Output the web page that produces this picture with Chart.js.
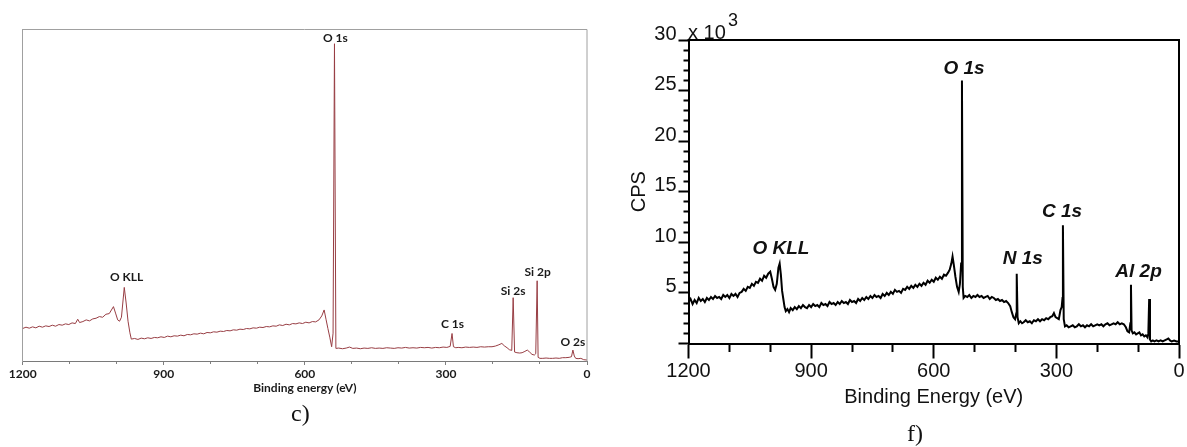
<!DOCTYPE html>
<html><head><meta charset="utf-8">
<script src="https://cdn.jsdelivr.net/npm/chart.js@4"></script>
<style>
html,body{margin:0;padding:0;background:#fff;}
#wrap{position:relative;width:1187px;height:447px;overflow:hidden;background:#fff;}
canvas{position:absolute;top:0;}
.t{position:absolute;white-space:nowrap;color:#111;}
</style></head><body>
<div id="wrap">
<canvas id="chartC" width="600" height="447" style="left:0"></canvas>
<canvas id="chartF" width="587" height="447" style="left:600px"></canvas>
<div class="t" style="left:291px;top:401px;font:24px 'Liberation Serif';line-height:24px">c)</div>
<div class="t" style="left:907px;top:421px;font:24px 'Liberation Serif';line-height:24px">f)</div>
<div class="t" style="left:688px;top:22px;font:20px 'Liberation Sans';line-height:20px">x 10</div>
<div class="t" style="left:728px;top:11px;font:18px 'Liberation Sans';line-height:18px">3</div>
</div>
<script>
// ---------- panel c) ----------
const energyC = [1200,1193,1186,1179,1172,1165,1158,1151,1144,1137,1130,1123,1116,1109,1102,1095,1088,1083,1079,1072,1065,1058,1051,1044,1037,1030,1023,1016,1007,1002,998,994,990,984,980,976,972,969,962,955,948,941,934,927,920,913,906,899,892,885,878,871,864,857,850,843,836,829,822,815,808,801,794,787,780,773,766,759,752,745,738,731,724,717,710,703,696,689,682,675,668,661,654,647,640,633,626,619,612,605,598,591,584,577,570,564,559,555,551,547,543,540,537,534,528,520,512,505,498,490,482,474,466,458,450,442,434,426,418,410,402,394,386,378,370,362,354,346,338,330,322,314,306,298,291,287,284,279,274,266,258,250,242,234,226,218,210,202,195,189,181,176,170,165,160,157,154,149,143,138,132,127,122,117,112,109,106,104,100,94,87,80,73,66,59,52,45,38,33,30,27,24,19,13,7,0];
const countsC = [9.8,10.2,9.9,10.3,10.0,10.5,10.2,10.6,10.4,10.8,10.5,11.0,10.8,11.2,11.0,11.5,11.3,12.6,11.6,11.9,12.4,12.1,12.7,12.9,13.4,13.2,14.1,14.3,16.4,14.2,12.4,12.0,13.2,22.2,17.5,12.0,8.5,6.6,6.8,6.5,6.9,6.7,7.0,6.8,7.1,7.0,7.3,7.1,7.5,7.3,7.6,7.5,7.8,7.6,8.0,7.9,8.2,8.1,8.4,8.2,8.6,8.5,8.8,8.7,9.0,8.9,9.2,9.1,9.4,9.3,9.6,9.5,9.8,9.7,10.0,9.9,10.2,10.1,10.4,10.3,10.6,10.5,10.9,10.7,11.1,10.9,11.3,11.2,11.5,11.3,11.7,11.5,11.9,11.8,12.4,13.6,15.4,12.6,9.8,7.2,4.3,8.4,95.7,3.8,3.9,3.7,3.9,4.2,3.8,3.9,3.7,3.9,3.8,4.0,3.8,3.9,3.8,4.0,3.9,3.8,4.0,3.9,4.1,3.9,4.0,3.9,4.1,4.0,4.1,3.9,4.1,4.0,4.2,4.1,4.4,8.3,4.3,4.0,4.1,4.0,4.2,4.1,4.2,4.1,4.3,4.2,4.3,4.3,4.5,4.8,5.3,4.6,4.0,3.4,3.2,19.1,2.7,2.5,2.4,2.5,2.9,3.3,2.7,2.0,1.8,2.2,24.2,1.1,0.8,0.8,0.9,0.8,0.8,0.9,0.8,1.0,1.0,1.1,1.3,3.3,1.5,0.8,0.7,0.8,0.4,0.3];
const peakNamesC = ['O 1s','O KLL','C 1s','Si 2s','Si 2p','O 2s'];
const peakLabelEnergyC = [535,979,286,157,105,30];
const peakLabelLevelC = [97.3,25.3,11.1,21.1,26.8,5.7];

// ---------- panel f) ----------
const energyF = [1200,1195,1190,1185,1180,1175,1170,1165,1160,1155,1150,1145,1140,1135,1130,1125,1120,1115,1110,1105,1100,1095,1090,1085,1080,1075,1070,1065,1060,1055,1050,1045,1040,1035,1030,1025,1020,1015,1010,1005,1000,996,992,988,984,980,977,974,971,968,965,962,958,954,950,945,940,935,930,925,920,915,910,905,900,895,890,885,880,875,870,865,860,855,850,845,840,835,830,825,820,815,810,805,800,795,790,785,780,775,770,765,760,755,750,745,740,735,730,725,720,715,710,705,700,695,690,685,680,675,670,665,660,655,650,645,640,635,630,625,620,615,610,605,600,595,590,585,580,575,570,565,561,557,554,551,547,543,539,536,533,531,529,527,523,518,513,508,503,498,493,488,483,478,473,468,463,458,453,448,443,438,433,428,423,418,413,409,405,401,398,397,395,392,388,384,380,375,370,365,360,355,350,345,340,335,330,325,320,315,310,306,302,298,294,290,287,285,284,282,279,275,270,265,260,255,250,245,240,235,230,225,220,215,210,205,200,195,190,185,180,175,170,165,160,155,150,145,140,135,130,126,122,119,117.5,116,113,109,105,101,97,93,89,85,81,77,75,73,71,68,64,60,55,50,45,40,35,30,26,22,18,12,6,0];
const countsF = [4.1,4.4,3.9,4.3,4.0,4.5,4.2,4.4,4.1,4.5,4.3,4.6,4.4,4.7,4.5,4.6,4.4,4.8,4.6,4.8,4.5,4.9,4.7,4.9,4.6,5.0,5.1,5.4,5.2,5.6,5.5,5.9,5.7,6.1,6.0,6.4,6.2,6.7,6.5,6.9,7.1,6.4,5.6,5.3,5.9,7.5,7.9,6.8,5.2,4.4,3.6,3.2,3.4,3.1,3.5,3.3,3.6,3.4,3.7,3.5,3.8,3.6,3.5,3.8,3.6,3.9,3.7,3.8,3.6,4.0,3.8,3.9,3.7,4.1,3.9,4.0,3.8,4.1,3.9,4.2,4.0,4.1,3.9,4.3,4.1,4.2,4.0,4.4,4.2,4.5,4.3,4.6,4.4,4.7,4.5,4.8,4.6,4.7,4.5,4.9,4.7,5.0,4.8,5.1,4.9,5.3,5.1,5.2,5.0,5.4,5.3,5.6,5.4,5.7,5.5,5.8,5.6,5.9,5.7,6.0,5.8,6.2,6.0,6.3,6.1,6.5,6.3,6.6,6.4,6.8,6.7,7.0,7.3,7.9,8.6,7.8,6.6,5.6,5.1,5.9,7.9,26.0,5.6,4.5,4.7,4.6,4.8,4.5,4.7,4.6,4.8,4.6,4.7,4.5,4.6,4.7,4.4,4.6,4.5,4.3,4.4,4.2,4.3,4.1,4.2,4.0,3.7,3.1,2.6,2.4,3.0,6.9,2.6,2.0,2.2,2.0,2.1,2.3,2.1,2.2,2.0,2.3,2.2,2.4,2.2,2.4,2.3,2.5,2.4,2.6,2.7,3.0,2.6,2.5,2.4,3.3,3.6,4.5,11.7,2.4,1.7,1.8,1.6,1.7,1.8,1.6,1.7,1.9,1.7,1.8,1.6,1.8,1.7,1.9,1.7,1.8,1.9,1.8,1.9,1.7,1.9,2.0,1.8,1.9,2.0,1.9,2.1,1.9,2.0,1.9,1.6,1.2,1.1,2.0,5.8,1.3,1.0,1.1,0.9,1.0,1.1,0.8,0.9,0.7,0.8,0.6,1.0,4.4,0.4,0.2,0.3,0.2,0.3,0.2,0.3,0.2,0.3,0.4,0.5,0.3,0.2,0.3,0.2,0.2];
const peakNamesF = ['O 1s','O KLL','N 1s','C 1s','Al 2p'];
const peakLabelEnergyF = [526,974,382,286,99];
const peakLabelLevelF = [27.2,9.4,8.4,13.0,7.1];

const xTickLabels = [1200,900,600,300,0];
const yTickLabelsF = [5,10,15,20,25,30];

function pts(xs, ys){ return xs.map((x,i)=>({x:x, y:ys[i]})); }

function framePlugin(color, width){
  return {id:'frame', afterDatasetsDraw(chart){
    const ctx = chart.ctx, a = chart.chartArea;
    ctx.save(); ctx.strokeStyle = color; ctx.lineWidth = width; ctx.lineCap='square';
    ctx.beginPath(); ctx.moveTo(a.left, a.top); ctx.lineTo(a.right, a.top); ctx.lineTo(a.right, a.bottom); ctx.stroke();
    ctx.restore();
  }};
}
function labelPlugin(names, energies, levels, font, color){
  return {id:'peakLabels', afterDatasetsDraw(chart){
    const ctx = chart.ctx, xs = chart.scales.x, ys = chart.scales.y;
    ctx.save(); ctx.font = font; ctx.fillStyle = color; ctx.textAlign='center'; ctx.textBaseline='middle';
    names.forEach((n,i)=>ctx.fillText(n, xs.getPixelForValue(energies[i]), ys.getPixelForValue(levels[i])));
    ctx.restore();
  }};
}

new Chart(document.getElementById('chartC'), {
  type:'line',
  data:{datasets:[{data:pts(energyC,countsC), borderColor:'#983e44', borderWidth:1, pointRadius:0, tension:0, fill:false}]},
  options:{
    responsive:false, animation:false, devicePixelRatio:1,
    layout:{padding:{left:22.7, right:13, top:29.5, bottom:52}},
    plugins:{legend:{display:false}, tooltip:{enabled:false}},
    scales:{
      x:{type:'linear', reverse:true, min:0, max:1200,
        afterFit(s){ s.height = 34; },
        ticks:{stepSize:100, autoSkip:false, maxRotation:0, minRotation:0, padding:2, color:'#1a1a1a',
          font:{family:'Lato', weight:'bold', size:12}, callback:v=> xTickLabels.includes(v) ? String(v) : ''},
        grid:{drawOnChartArea:false, tickLength:4, tickColor:'#808080',
          tickBorderDash:c=> (c.tick && xTickLabels.includes(c.tick.value)) ? [] : [2,20]},
        border:{color:'#7a7a7a', width:1},
        title:{display:true, text:'Binding energy (eV)', color:'#1a1a1a', font:{family:'Lato', weight:'bold', size:12}, padding:0}
      },
      y:{type:'linear', min:0, max:100, afterFit(s){ s.width = 0; },
        ticks:{display:false}, grid:{drawOnChartArea:false, drawTicks:false},
        border:{color:'#a0a0a0', width:1}}
    }
  },
  plugins:[framePlugin('#a0a0a0',1), labelPlugin(peakNamesC, peakLabelEnergyC, peakLabelLevelC, 'bold 12px Lato', '#1a1a1a')]
});

new Chart(document.getElementById('chartF'), {
  type:'line',
  data:{datasets:[{data:pts(energyF,countsF), borderColor:'#000', borderWidth:2, pointRadius:0, tension:0, fill:false}]},
  options:{
    responsive:false, animation:false, devicePixelRatio:1,
    layout:{padding:{left:27, right:8, top:40, bottom:38}},
    plugins:{legend:{display:false}, tooltip:{enabled:false}},
    scales:{
      x:{type:'linear', reverse:true, min:0, max:1200,
        afterFit(s){ s.height = 65.5; },
        ticks:{stepSize:100, autoSkip:false, maxRotation:0, minRotation:0, padding:1, color:'#111',
          font:{family:'Liberation Sans', size:20}, callback:v=> xTickLabels.includes(v) ? String(v) : ''},
        grid:{drawOnChartArea:false, tickLength:15, tickWidth:2, tickColor:'#000',
          tickBorderDash:c=> (c.tick && xTickLabels.includes(c.tick.value)) ? [] : [7,50]},
        border:{color:'#000', width:2},
        title:{display:true, text:'Binding Energy (eV)', color:'#111', font:{family:'Liberation Sans', size:20}, padding:0}
      },
      y:{type:'linear', min:0, max:30, afterFit(s){ s.width = 61.5; },
        ticks:{stepSize:1, autoSkip:false, padding:2, labelOffset:-6, color:'#111',
          font:{family:'Liberation Sans', size:20}, callback:v=> yTickLabelsF.includes(v) ? String(v) : ''},
        grid:{drawOnChartArea:false, tickLength:10, tickWidth:2, tickColor:'#000',
          tickBorderDash:c=> (c.tick && c.tick.value % 5 === 0) ? [] : [5,50],
          tickBorderDashOffset:c=> (c.tick && c.tick.value % 5 === 0) ? 0 : 50},
        border:{color:'#000', width:2},
        title:{display:true, text:'CPS', color:'#111', font:{family:'Liberation Sans', size:20}, padding:0}
      }
    }
  },
  plugins:[framePlugin('#000',2), labelPlugin(peakNamesF, peakLabelEnergyF, peakLabelLevelF, 'italic bold 19px "Liberation Sans"', '#111')]
});
</script>
</body></html>
